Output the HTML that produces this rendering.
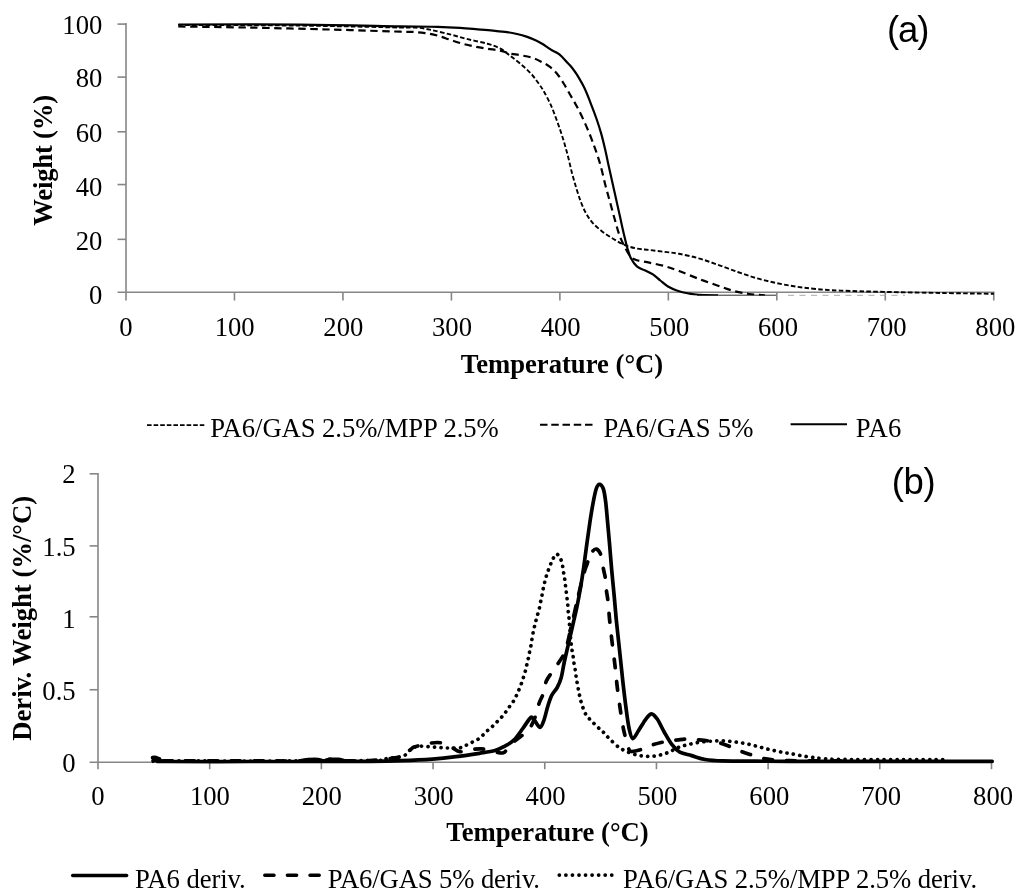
<!DOCTYPE html>
<html lang="en"><head><meta charset="utf-8"><title>TGA and DTG curves</title>
<style>
html,body{margin:0;padding:0;background:#fff;}
body{width:1024px;height:896px;overflow:hidden;}
svg{display:block;}
text{font-family:"Liberation Serif","Times New Roman",serif;font-size:26.67px;fill:#000;}
.b{font-weight:bold;}
.tag{font-family:"Liberation Sans","DejaVu Sans",sans-serif;font-size:36.5px;}
.ax{stroke:#868686;stroke-width:1.6;fill:none;}
.c{fill:none;stroke:#000;stroke-linejoin:round;}
</style></head><body>
<svg width="1024" height="896" viewBox="0 0 1024 896">
<rect x="0" y="0" width="1024" height="896" fill="#fff"/>
<g id="chart-a">
<path class="ax" d="M126.00 23.10V300.55"/>
<path class="ax" d="M117.50 292.25H994.55"/>
<path class="ax" d="M117.50 239.35H126.00"/>
<path class="ax" d="M117.50 184.55H126.00"/>
<path class="ax" d="M117.50 131.80H126.00"/>
<path class="ax" d="M117.50 77.10H126.00"/>
<path class="ax" d="M117.50 24.10H126.00"/>
<path class="ax" d="M234.47 292.25V300.55"/>
<path class="ax" d="M342.94 292.25V300.55"/>
<path class="ax" d="M451.41 292.25V300.55"/>
<path class="ax" d="M559.88 292.25V300.55"/>
<path class="ax" d="M668.34 292.25V300.55"/>
<path class="ax" d="M776.81 292.25V300.55"/>
<path class="ax" d="M885.28 292.25V300.55"/>
<path class="ax" d="M993.75 292.25V300.55"/>
<text x="102.3" y="304.00" text-anchor="end">0</text>
<text x="102.3" y="249.60" text-anchor="end">20</text>
<text x="102.3" y="195.70" text-anchor="end">40</text>
<text x="102.3" y="142.10" text-anchor="end">60</text>
<text x="102.3" y="87.40" text-anchor="end">80</text>
<text x="102.3" y="33.90" text-anchor="end">100</text>
<text x="126.00" y="336" text-anchor="middle">0</text>
<text x="234.67" y="336" text-anchor="middle">100</text>
<text x="343.34" y="336" text-anchor="middle">200</text>
<text x="452.01" y="336" text-anchor="middle">300</text>
<text x="560.67" y="336" text-anchor="middle">400</text>
<text x="669.34" y="336" text-anchor="middle">500</text>
<text x="778.01" y="336" text-anchor="middle">600</text>
<text x="886.68" y="336" text-anchor="middle">700</text>
<text x="995.35" y="336" text-anchor="middle">800</text>
<text class="b" x="562" y="373" text-anchor="middle">Temperature (°C)</text>
<text class="b" transform="translate(52.2 160.4) rotate(-90)" text-anchor="middle" letter-spacing="-0.2">Weight (%)</text>
<text class="tag" x="907.7" y="42.3" text-anchor="middle" letter-spacing="-1">(a)</text>
<path d="M697 295.2H776" stroke="#111" stroke-width="0.9" fill="none"/>
<path d="M788 295.3H905" stroke="#a0a0a0" stroke-width="0.9" stroke-dasharray="6 5.5" fill="none"/>
<clipPath id="ca"><rect x="120" y="10" width="890" height="285.6"/></clipPath>
<g clip-path="url(#ca)">
<path class="c" stroke-width="1.9" stroke-dasharray="4.6 2.3" d="M178.25 24.90C198.54 25.02 263.04 25.17 300.00 25.60C336.96 26.03 380.21 27.13 400.00 27.50C419.79 27.87 413.54 27.38 418.75 27.80C423.96 28.22 426.04 28.90 431.25 30.00C436.46 31.10 443.75 32.83 450.00 34.40C456.25 35.97 462.50 37.84 468.75 39.40C475.00 40.96 482.29 42.25 487.50 43.75C492.71 45.25 496.35 46.49 500.00 48.40C503.65 50.31 506.02 52.64 509.40 55.20C512.78 57.76 516.66 60.63 520.30 63.75C523.94 66.87 528.13 70.53 531.25 73.90C534.37 77.28 536.94 81.15 539.00 84.00C541.06 86.85 541.62 87.47 543.60 91.00C545.58 94.53 548.58 99.98 550.90 105.20C553.22 110.42 555.45 116.62 557.50 122.30C559.55 127.98 561.45 133.62 563.20 139.30C564.95 144.98 566.52 150.70 568.00 156.40C569.48 162.10 570.68 168.12 572.10 173.50C573.52 178.88 575.03 183.95 576.50 188.70C577.97 193.45 579.32 197.90 580.90 202.00C582.48 206.10 584.05 209.83 586.00 213.30C587.95 216.77 589.92 219.78 592.60 222.80C595.28 225.82 598.62 228.70 602.10 231.40C605.58 234.10 609.70 236.73 613.50 239.00C617.30 241.27 621.00 243.40 624.90 245.00C628.80 246.60 632.82 247.77 636.90 248.60C640.98 249.43 644.72 249.45 649.40 250.00C654.08 250.55 660.07 251.27 665.00 251.90C669.93 252.53 673.40 252.73 679.00 253.80C684.60 254.87 692.10 256.47 698.60 258.30C705.10 260.13 711.48 262.52 718.00 264.80C724.52 267.08 731.17 269.73 737.70 272.00C744.23 274.27 750.70 276.55 757.20 278.40C763.70 280.25 770.19 281.73 776.70 283.10C783.21 284.47 789.73 285.62 796.25 286.60C802.77 287.58 808.51 288.33 815.80 289.00C823.09 289.67 828.47 290.12 840.00 290.60C851.53 291.08 868.33 291.50 885.00 291.90C901.67 292.30 921.85 292.69 940.00 293.00C958.15 293.31 984.92 293.62 993.90 293.75"/>
<path class="c" stroke-width="2.2" stroke-dasharray="7.4 4.6" d="M178.25 26.50C190.21 26.68 224.71 27.10 250.00 27.60C275.29 28.10 305.00 28.82 330.00 29.50C355.00 30.18 386.25 31.30 400.00 31.70C413.75 32.10 408.33 31.67 412.50 31.90C416.67 32.13 420.83 32.48 425.00 33.10C429.17 33.72 433.33 34.49 437.50 35.60C441.67 36.71 445.83 38.39 450.00 39.75C454.17 41.11 458.33 42.61 462.50 43.75C466.67 44.89 470.83 45.77 475.00 46.60C479.17 47.43 483.33 48.08 487.50 48.75C491.67 49.42 496.35 49.83 500.00 50.60C503.65 51.38 506.02 52.63 509.40 53.40C512.78 54.17 516.66 54.52 520.30 55.20C523.94 55.88 527.87 56.47 531.25 57.50C534.63 58.53 537.48 59.83 540.60 61.40C543.73 62.97 547.13 64.68 550.00 66.90C552.87 69.12 555.47 71.85 557.80 74.70C560.13 77.55 561.92 80.62 564.00 84.00C566.08 87.38 568.20 91.33 570.30 95.00C572.40 98.67 574.52 102.10 576.60 106.00C578.68 109.90 580.73 113.98 582.80 118.40C584.87 122.82 587.17 128.07 589.00 132.50C590.83 136.93 592.37 141.25 593.75 145.00C595.13 148.75 596.09 151.30 597.30 155.00C598.51 158.70 599.62 162.03 601.00 167.20C602.38 172.37 604.05 180.03 605.60 186.00C607.15 191.97 608.73 197.28 610.30 203.00C611.87 208.72 613.43 214.80 615.00 220.30C616.57 225.80 618.00 231.43 619.70 236.00C621.40 240.57 623.38 244.27 625.20 247.70C627.02 251.13 628.65 254.52 630.60 256.60C632.55 258.68 633.77 259.18 636.90 260.20C640.03 261.22 644.72 261.70 649.40 262.70C654.08 263.70 660.07 264.82 665.00 266.20C669.93 267.58 673.40 268.90 679.00 271.00C684.60 273.10 692.10 276.35 698.60 278.80C705.10 281.25 712.14 283.67 718.00 285.70C723.86 287.73 728.52 289.62 733.75 291.00C738.98 292.38 744.19 293.28 749.40 294.00C754.61 294.72 762.40 295.08 765.00 295.30"/>
<path class="c" stroke-width="2.2" d="M178.25 24.50C198.54 24.52 263.04 24.30 300.00 24.60C336.96 24.90 377.08 25.92 400.00 26.30C422.92 26.68 427.50 26.63 437.50 26.90C447.50 27.17 453.30 27.50 460.00 27.90C466.70 28.30 472.20 28.85 477.70 29.30C483.20 29.75 488.12 30.13 493.00 30.60C497.88 31.07 503.00 31.53 507.00 32.10C511.00 32.67 513.75 33.25 517.00 34.00C520.25 34.75 523.50 35.60 526.50 36.60C529.50 37.60 532.40 38.82 535.00 40.00C537.60 41.18 540.02 42.48 542.10 43.70C544.18 44.92 545.87 46.20 547.50 47.30C549.13 48.40 549.92 49.12 551.90 50.30C553.88 51.48 556.85 52.37 559.40 54.40C561.95 56.43 565.17 60.37 567.20 62.50C569.23 64.63 570.03 65.25 571.60 67.20C573.17 69.15 574.50 70.80 576.60 74.20C578.70 77.60 581.85 82.75 584.20 87.60C586.55 92.45 588.67 98.15 590.70 103.30C592.73 108.45 594.65 113.45 596.40 118.50C598.15 123.55 599.77 128.55 601.20 133.60C602.63 138.65 603.75 143.42 605.00 148.80C606.25 154.18 607.45 160.20 608.70 165.90C609.95 171.60 611.23 177.32 612.50 183.00C613.77 188.68 615.03 194.32 616.30 200.00C617.57 205.68 618.83 211.40 620.10 217.10C621.37 222.80 622.68 229.02 623.90 234.20C625.12 239.38 626.25 244.23 627.40 248.20C628.55 252.17 629.22 254.97 630.80 258.00C632.38 261.03 634.58 264.35 636.90 266.40C639.22 268.45 642.10 269.00 644.70 270.30C647.30 271.60 649.90 272.50 652.50 274.20C655.10 275.90 657.72 278.45 660.30 280.50C662.88 282.55 665.13 284.80 668.00 286.50C670.87 288.20 674.03 289.53 677.50 290.70C680.97 291.87 685.28 292.82 688.80 293.50C692.32 294.18 693.73 294.50 698.60 294.80C703.47 295.10 714.77 295.22 718.00 295.30"/>
</g>
<path class="c" stroke-width="1.9" stroke-dasharray="4.6 2" d="M147 425.1H204.3"/>
<text x="210.3" y="437" letter-spacing="-0.07">PA6/GAS 2.5%/MPP 2.5%</text>
<path class="c" stroke-width="1.9" stroke-dasharray="7.5 3.75" d="M540 424.7H592.5"/>
<text x="603.4" y="437" letter-spacing="0.25">PA6/GAS 5%</text>
<path class="c" stroke-width="1.9" d="M790.6 424.3H847"/>
<text x="855.8" y="437" letter-spacing="0.3">PA6</text>
</g>
<g id="chart-b">
<path class="ax" d="M98.00 472.90V769.20"/>
<path class="ax" d="M89.60 762.20H992.30"/>
<path class="ax" d="M89.60 689.75H98.00"/>
<path class="ax" d="M89.60 616.80H98.00"/>
<path class="ax" d="M89.60 545.90H98.00"/>
<path class="ax" d="M89.60 473.80H98.00"/>
<path class="ax" d="M209.69 762.20V769.20"/>
<path class="ax" d="M321.38 762.20V769.20"/>
<path class="ax" d="M433.06 762.20V769.20"/>
<path class="ax" d="M544.75 762.20V769.20"/>
<path class="ax" d="M656.44 762.20V769.20"/>
<path class="ax" d="M768.12 762.20V769.20"/>
<path class="ax" d="M879.81 762.20V769.20"/>
<path class="ax" d="M991.50 762.20V769.20"/>
<text x="75.7" y="772.40" text-anchor="end">0</text>
<text x="75.7" y="699.90" text-anchor="end">0.5</text>
<text x="75.7" y="627.90" text-anchor="end">1</text>
<text x="75.7" y="555.90" text-anchor="end">1.5</text>
<text x="75.7" y="483.30" text-anchor="end">2</text>
<text x="98.00" y="804.7" text-anchor="middle">0</text>
<text x="209.89" y="804.7" text-anchor="middle">100</text>
<text x="321.77" y="804.7" text-anchor="middle">200</text>
<text x="433.66" y="804.7" text-anchor="middle">300</text>
<text x="545.55" y="804.7" text-anchor="middle">400</text>
<text x="657.44" y="804.7" text-anchor="middle">500</text>
<text x="769.33" y="804.7" text-anchor="middle">600</text>
<text x="881.21" y="804.7" text-anchor="middle">700</text>
<text x="993.10" y="804.7" text-anchor="middle">800</text>
<text class="b" x="547.5" y="841.3" text-anchor="middle">Temperature (°C)</text>
<text class="b" transform="translate(31.3 618.3) rotate(-90)" text-anchor="middle">Deriv. Weight (%/°C)</text>
<text class="tag" x="913.5" y="494" text-anchor="middle" letter-spacing="-0.3">(b)</text>
<path class="c" stroke-width="3.7" stroke-linecap="round" stroke-dasharray="0.1 6.4" d="M153.00 760.80C169.17 760.83 213.83 761.03 250.00 761.00C286.17 760.97 347.40 760.97 370.00 760.60C392.60 760.23 380.00 759.60 385.60 758.80C391.20 758.00 399.43 757.35 403.60 755.80C407.77 754.25 408.38 751.07 410.60 749.50C412.82 747.93 414.55 746.92 416.90 746.40C419.25 745.88 422.10 746.32 424.70 746.40C427.30 746.48 429.90 746.72 432.50 746.90C435.10 747.08 437.72 747.32 440.30 747.50C442.88 747.68 444.88 747.92 448.00 748.00C451.12 748.08 456.12 748.40 459.00 748.00C461.88 747.60 463.20 746.52 465.30 745.60C467.40 744.68 469.52 743.53 471.60 742.50C473.68 741.47 475.98 740.57 477.80 739.40C479.62 738.23 480.93 736.93 482.50 735.50C484.07 734.07 485.63 732.23 487.20 730.80C488.77 729.37 490.33 728.33 491.90 726.90C493.47 725.47 495.04 723.77 496.60 722.20C498.16 720.63 499.82 719.07 501.25 717.50C502.68 715.93 503.91 714.50 505.20 712.80C506.49 711.10 507.70 709.12 509.00 707.30C510.30 705.48 511.83 703.72 513.00 701.90C514.17 700.08 515.04 698.35 516.00 696.40C516.96 694.45 517.88 692.28 518.75 690.20C519.62 688.12 520.49 685.97 521.25 683.90C522.01 681.83 522.64 679.85 523.30 677.80C523.96 675.75 524.63 673.68 525.20 671.60C525.77 669.52 526.18 667.47 526.70 665.30C527.22 663.13 527.83 660.77 528.30 658.60C528.77 656.43 529.05 654.52 529.50 652.30C529.95 650.08 530.55 647.77 531.00 645.30C531.45 642.83 531.74 640.10 532.20 637.50C532.66 634.90 533.23 632.05 533.75 629.70C534.27 627.35 534.77 625.53 535.30 623.40C535.82 621.27 536.30 619.10 536.90 616.90C537.50 614.70 538.33 612.43 538.90 610.20C539.47 607.97 539.85 605.65 540.30 603.50C540.75 601.35 541.18 599.42 541.60 597.30C542.02 595.18 542.37 592.95 542.80 590.80C543.23 588.65 543.70 586.57 544.20 584.40C544.70 582.23 545.20 579.93 545.80 577.80C546.40 575.67 547.07 573.68 547.80 571.60C548.53 569.52 549.42 567.27 550.20 565.30C550.98 563.33 551.47 561.68 552.50 559.80C553.53 557.92 555.10 554.25 556.40 554.00C557.70 553.75 559.32 556.55 560.30 558.30C561.28 560.05 561.78 562.28 562.30 564.50C562.82 566.72 563.03 569.43 563.40 571.60C563.77 573.77 564.18 575.43 564.50 577.50C564.82 579.57 565.03 581.82 565.30 584.00C565.57 586.18 565.83 588.38 566.10 590.60C566.37 592.82 566.63 595.15 566.90 597.30C567.17 599.45 567.50 601.35 567.70 603.50C567.90 605.65 567.90 607.97 568.10 610.20C568.30 612.43 568.68 614.70 568.90 616.90C569.12 619.10 569.22 621.01 569.40 623.40C569.58 625.79 569.73 628.12 570.00 631.25C570.27 634.38 570.67 639.08 571.00 642.20C571.33 645.33 571.65 647.66 572.00 650.00C572.35 652.34 572.77 654.03 573.10 656.25C573.43 658.47 573.65 661.09 574.00 663.30C574.35 665.51 574.87 667.42 575.20 669.50C575.53 671.58 575.70 673.72 576.00 675.80C576.30 677.88 576.62 679.80 577.00 682.00C577.38 684.20 577.88 686.78 578.30 689.00C578.72 691.22 579.05 693.20 579.50 695.30C579.95 697.40 580.42 699.52 581.00 701.60C581.58 703.68 582.17 705.60 583.00 707.80C583.83 710.00 584.83 712.85 586.00 714.80C587.17 716.75 588.55 717.93 590.00 719.50C591.45 721.07 593.07 722.60 594.70 724.20C596.33 725.80 598.25 727.67 599.80 729.10C601.35 730.53 602.38 731.18 604.00 732.80C605.62 734.42 606.95 736.33 609.50 738.80C612.05 741.27 616.05 745.32 619.30 747.60C622.55 749.88 625.75 751.20 629.00 752.50C632.25 753.80 635.53 754.75 638.80 755.40C642.07 756.05 645.33 756.40 648.60 756.40C651.87 756.40 655.15 756.05 658.40 755.40C661.65 754.75 664.85 753.80 668.10 752.50C671.35 751.20 674.63 748.90 677.90 747.60C681.17 746.30 684.12 745.58 687.70 744.70C691.28 743.82 695.52 742.88 699.40 742.30C703.28 741.72 707.10 741.45 711.00 741.20C714.90 740.95 718.88 740.70 722.80 740.80C726.72 740.90 730.59 741.32 734.50 741.80C738.41 742.28 742.33 742.90 746.25 743.70C750.17 744.50 754.09 745.62 758.00 746.60C761.91 747.58 765.80 748.68 769.70 749.60C773.60 750.52 778.02 751.45 781.40 752.10C784.78 752.75 786.90 752.93 790.00 753.50C793.10 754.07 796.33 754.87 800.00 755.50C803.67 756.13 808.17 756.78 812.00 757.30C815.83 757.82 818.33 758.25 823.00 758.60C827.67 758.95 827.17 759.22 840.00 759.40C852.83 759.58 882.67 759.65 900.00 759.70C917.33 759.75 936.67 759.70 944.00 759.70"/>
<path class="c" stroke-width="3.7" stroke-linecap="round" stroke-dasharray="8.8 14" stroke-dashoffset="9.98" d="M152.60 757.20C153.50 757.37 156.43 757.63 158.00 758.20C159.57 758.77 160.00 760.15 162.00 760.60C164.00 761.05 155.33 760.85 170.00 760.90C184.67 760.95 228.33 760.90 250.00 760.90C271.67 760.90 290.17 761.12 300.00 760.90C309.83 760.68 306.00 759.83 309.00 759.60C312.00 759.37 315.58 759.28 318.00 759.50C320.42 759.72 321.50 760.92 323.50 760.90C325.50 760.88 327.58 759.65 330.00 759.40C332.42 759.15 335.67 759.17 338.00 759.40C340.33 759.63 338.67 760.62 344.00 760.80C349.33 760.98 361.77 760.95 370.00 760.50C378.23 760.05 387.80 758.88 393.40 758.10C399.00 757.32 401.00 756.97 403.60 755.80C406.20 754.63 407.31 752.53 409.00 751.10C410.69 749.67 411.92 748.13 413.75 747.20C415.58 746.27 417.39 746.15 420.00 745.50C422.61 744.85 426.02 743.77 429.40 743.30C432.78 742.83 436.66 742.05 440.30 742.70C443.94 743.35 448.00 745.70 451.25 747.20C454.50 748.70 456.68 751.27 459.80 751.70C462.93 752.13 466.35 750.27 470.00 749.80C473.65 749.33 477.53 748.55 481.70 748.90C485.87 749.25 491.35 751.28 495.00 751.90C498.65 752.52 501.00 753.83 503.60 752.60C506.20 751.37 507.87 747.10 510.60 744.50C513.33 741.90 516.93 739.47 520.00 737.00C523.07 734.53 526.33 733.40 529.00 729.70C531.67 726.00 534.30 719.25 536.00 714.80C537.70 710.35 537.88 706.77 539.20 703.00C540.52 699.23 542.73 695.83 543.90 692.20C545.07 688.58 544.82 684.70 546.25 681.25C547.68 677.80 550.42 674.62 552.50 671.50C554.58 668.38 556.67 665.70 558.75 662.50C560.83 659.30 563.44 655.95 565.00 652.30C566.56 648.65 567.18 644.37 568.10 640.60C569.02 636.83 569.52 633.97 570.50 629.70"/>
<path class="c" stroke-width="3.7" stroke-linecap="round" stroke-dasharray="11 11.8" stroke-dashoffset="9.20" d="M570.50 629.70C571.48 625.43 572.75 620.45 574.00 615.00C575.25 609.55 576.38 603.85 578.00 597.00C579.62 590.15 582.27 579.32 583.75 573.90C585.23 568.48 585.59 568.05 586.90 564.50C588.21 560.95 589.98 555.17 591.60 552.60C593.22 550.03 595.03 548.67 596.60 549.10C598.17 549.53 599.88 551.98 601.00 555.20"/>
<path class="c" stroke-width="3.7" stroke-linecap="round" stroke-dasharray="8.8 14" stroke-dashoffset="9.39" d="M601.00 555.20C602.12 558.42 602.53 564.37 603.30 568.40C604.07 572.43 605.08 575.75 605.60 579.40C606.12 583.05 606.00 586.66 606.40 590.30C606.80 593.94 607.48 596.51 608.00 601.25C608.52 605.99 608.85 612.19 609.50 618.75C610.15 625.31 610.98 632.79 611.90 640.60C612.82 648.41 614.10 657.78 615.00 665.60C615.90 673.42 616.38 679.93 617.30 687.50C618.22 695.07 619.45 703.97 620.50 711.00C621.55 718.03 622.63 724.87 623.60 729.70C624.57 734.53 625.40 736.68 626.30 740.00C627.20 743.32 628.13 747.68 629.00 749.60C629.87 751.52 629.53 751.50 631.50 751.50"/>
<path class="c" stroke-width="3.7" stroke-linecap="round" stroke-dasharray="8.8 14" stroke-dashoffset="22.45" d="M631.50 751.50C633.47 751.50 637.30 750.70 640.80 749.60C644.30 748.50 648.27 746.27 652.50 744.90C656.73 743.53 661.97 742.23 666.20 741.40C670.43 740.57 674.15 740.30 677.90 739.90C681.65 739.50 685.12 739.00 688.70 739.00C692.28 739.00 695.68 739.53 699.40 739.90C703.12 740.27 707.95 740.82 711.00 741.20C714.05 741.58 714.77 741.40 717.70 742.20C720.63 743.00 725.09 744.63 728.60 746.00C732.11 747.37 735.18 749.00 738.75 750.40C742.32 751.80 746.14 753.10 750.00 754.40C753.86 755.70 757.65 757.27 761.90 758.20C766.15 759.13 770.82 759.58 775.50 760.00C780.18 760.42 777.58 760.55 790.00 760.70C802.42 760.85 840.00 760.87 850.00 760.90"/>
<path class="c" stroke-width="3.7" stroke-linecap="round" d="M152.60 757.60C153.17 757.67 154.77 757.50 156.00 758.00C157.23 758.50 158.50 760.02 160.00 760.60C161.50 761.18 150.00 761.35 165.00 761.50C180.00 761.65 222.50 761.50 250.00 761.50C277.50 761.50 310.00 761.52 330.00 761.50C350.00 761.48 358.12 761.53 370.00 761.40C381.88 761.27 390.83 761.08 401.25 760.70C411.67 760.32 423.38 759.77 432.50 759.10C441.62 758.43 448.18 757.67 456.00 756.70C463.82 755.73 472.90 754.33 479.40 753.30C485.90 752.27 490.83 751.65 495.00 750.50C499.17 749.35 501.27 748.12 504.40 746.40C507.52 744.68 510.68 743.18 513.75 740.20C516.82 737.22 520.26 731.95 522.80 728.50C525.34 725.05 527.50 721.38 529.00 719.50C530.50 717.62 530.75 716.87 531.80 717.20C532.85 717.53 533.90 719.82 535.30 721.50C536.70 723.18 538.77 727.50 540.20 727.30C541.63 727.10 542.63 723.81 543.90 720.30C545.17 716.79 546.50 710.42 547.80 706.25C549.10 702.08 550.13 698.42 551.70 695.30C553.27 692.17 555.63 690.37 557.20 687.50C558.77 684.63 559.93 682.27 561.10 678.10C562.27 673.93 563.03 667.97 564.20 662.50C565.37 657.03 566.67 651.55 568.10 645.30C569.53 639.05 571.37 631.22 572.80 625.00C574.23 618.78 575.40 614.30 576.70 608.00C578.00 601.70 579.43 594.05 580.60 587.20C581.77 580.35 582.70 574.20 583.75 566.90C584.80 559.60 585.86 550.95 586.90 543.40C587.94 535.85 588.97 528.37 590.00 521.60C591.03 514.83 592.06 508.28 593.10 502.80C594.14 497.32 595.20 491.82 596.25 488.75C597.30 485.68 598.23 484.40 599.40 484.40C600.57 484.40 602.27 485.94 603.30 488.75C604.33 491.56 604.92 496.04 605.60 501.25C606.28 506.46 606.75 512.98 607.40 520.00C608.05 527.02 608.78 535.07 609.50 543.40C610.22 551.73 610.93 561.40 611.70 570.00C612.47 578.60 613.30 586.35 614.10 595.00C614.90 603.65 615.57 612.47 616.50 621.90C617.43 631.33 618.65 641.71 619.70 651.60C620.75 661.49 621.75 671.88 622.80 681.25C623.85 690.62 624.97 700.01 626.00 707.80C627.03 715.59 627.88 722.87 629.00 728.00C630.12 733.13 631.10 738.18 632.70 738.60C634.30 739.02 636.43 733.72 638.60 730.50C640.77 727.28 643.55 722.08 645.70 719.30C647.85 716.52 649.55 713.80 651.50 713.80C653.45 713.80 655.28 716.27 657.40 719.30C659.52 722.33 661.77 727.77 664.20 732.00C666.63 736.23 669.40 741.35 672.00 744.70C674.60 748.05 676.53 750.28 679.80 752.10C683.07 753.92 687.37 754.37 691.60 755.60C695.83 756.83 700.00 758.62 705.20 759.50C710.40 760.38 714.33 760.62 722.80 760.90C731.27 761.18 744.80 761.13 756.00 761.20C767.20 761.27 766.00 761.28 790.00 761.30C814.00 761.32 866.30 761.30 900.00 761.30C933.70 761.30 976.83 761.30 992.20 761.30"/>
<path class="c" stroke-width="3.4" stroke-linecap="round" d="M300.00 760.80C301.50 760.58 306.00 759.73 309.00 759.50C312.00 759.27 315.58 759.18 318.00 759.40C320.42 759.62 321.50 760.82 323.50 760.80C325.50 760.78 327.58 759.55 330.00 759.30C332.42 759.05 335.50 759.07 338.00 759.30C340.50 759.53 343.83 760.47 345.00 760.70"/>
<path d="M151.8 755.9L155.5 755.5L160.8 757.6L162 760L152 763.2Z" fill="#000"/>
<path class="c" stroke-width="3.5" stroke-linecap="round" d="M72.7 875.4H126.6"/>
<text x="135" y="887.7" letter-spacing="-0.06">PA6 deriv.</text>
<path class="c" stroke-width="3.5" stroke-linecap="round" stroke-dasharray="9.2 13.4" d="M264.8 875.3H321"/>
<text x="327.7" y="887.7" letter-spacing="-0.12">PA6/GAS 5% deriv.</text>
<path class="c" stroke-width="3.7" stroke-linecap="round" stroke-dasharray="0.1 6.45" d="M559.3 875.1H614"/>
<text x="623" y="887.7" letter-spacing="-0.08">PA6/GAS 2.5%/MPP 2.5% deriv.</text>
</g>
</svg></body></html>
